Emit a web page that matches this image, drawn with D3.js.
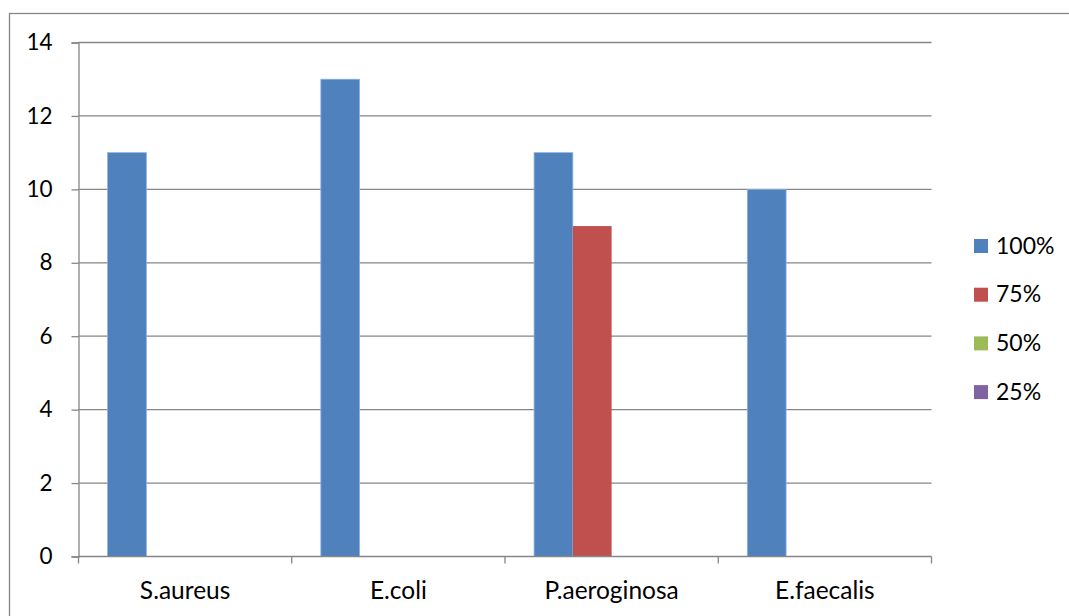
<!DOCTYPE html>
<html>
<head>
<meta charset="utf-8">
<script src="https://cdn.jsdelivr.net/npm/d3@7"></script>
<style>
  html, body { margin: 0; padding: 0; background: #fff; }
  svg { display: block; }
  text { font-family: Lato, Calibri, "Liberation Sans", sans-serif; fill: #000; }
</style>
</head>
<body>
<svg id="chart" width="1069" height="616"></svg>
<script>
// Bacteria tested
const categories = ["S.aureus", "E.coli", "P.aeroginosa", "E.faecalis"];
// Concentration series
const seriesNames = ["100%", "75%", "50%", "25%"];
const seriesColors = ["#4F81BD", "#C0504D", "#9BBB59", "#8064A2"];
// Values per series, in category order
const values100 = [11, 13, 11, 10];
const values75 = [0, 0, 9, 0];
const values50 = [0, 0, 0, 0];
const values25 = [0, 0, 0, 0];
const yTicks = [0, 2, 4, 6, 8, 10, 12, 14];

const seriesValues = [values100, values75, values50, values25];

const svg = d3.select("#chart");
const plot = { left: 78.5, right: 931.5, top: 42.5, bottom: 556.5 };
const gridColor = "#868686";

// Outer chart frame
svg.append("rect")
  .attr("x", 9.5).attr("y", 13.5)
  .attr("width", 1100).attr("height", 700)
  .attr("fill", "none").attr("stroke", gridColor).attr("stroke-width", 1.3);

const x0 = d3.scaleBand().domain(categories).range([plot.left, plot.right]).paddingInner(0).paddingOuter(0);
// Gap between clusters equals 1.5 bar widths
const gapRatio = 1.5;
const barW = x0.bandwidth() / (seriesNames.length + gapRatio);
const x1 = d3.scaleBand().domain(seriesNames)
  .range([barW * gapRatio / 2, barW * gapRatio / 2 + barW * seriesNames.length]);

const y = d3.scaleLinear().domain([0, 14]).range([plot.bottom, plot.top]);

// Horizontal gridlines
svg.append("g")
  .selectAll("line")
  .data(yTicks.filter(d => d > 0))
  .join("line")
  .attr("x1", plot.left).attr("x2", plot.right)
  .attr("y1", d => y(d)).attr("y2", d => y(d))
  .attr("stroke", gridColor).attr("stroke-width", 1.3);

// Bars
const rows = [];
categories.forEach((c, i) => {
  seriesNames.forEach((s, j) => {
    rows.push({ cat: c, series: s, value: seriesValues[j][i], color: seriesColors[j] });
  });
});
svg.append("g")
  .selectAll("rect")
  .data(rows.filter(d => d.value > 0))
  .join("rect")
  .attr("x", d => x0(d.cat) + x1(d.series))
  .attr("y", d => y(d.value))
  .attr("width", x1.bandwidth())
  .attr("height", d => y(0) - y(d.value))
  .attr("fill", d => d.color)
  .attr("stroke", d => d.series === "100%" ? "#8DB3E2" : "none")
  .attr("stroke-width", 0.8);

// Y axis
const yAxis = d3.axisLeft(y).tickValues(yTicks).tickSize(7).tickPadding(19);
const gy = svg.append("g").attr("transform", `translate(${plot.left},0)`).call(yAxis);
gy.select(".domain").attr("stroke", gridColor).attr("stroke-width", 1.3);
gy.selectAll(".tick line").attr("stroke", gridColor).attr("stroke-width", 1.3);
gy.selectAll(".tick text").style("font-size", "22.5px").style("font-family", "Lato, sans-serif").attr("fill", "#000");

// X axis with ticks at cluster boundaries
const gx = svg.append("g").attr("transform", `translate(0,${plot.bottom})`);
gx.append("line").attr("x1", plot.left).attr("x2", plot.right)
  .attr("stroke", gridColor).attr("stroke-width", 1.3);
const boundaries = categories.map(c => x0(c)).concat([plot.right]);
gx.selectAll("line.tk").data(boundaries).join("line").attr("class", "tk")
  .attr("x1", d => d).attr("x2", d => d).attr("y1", 0).attr("y2", 7)
  .attr("stroke", gridColor).attr("stroke-width", 1.3);
gx.selectAll("text").data(categories).join("text")
  .attr("x", d => x0(d) + x0.bandwidth() / 2)
  .attr("y", 42)
  .attr("text-anchor", "middle")
  .style("font-size", "24.5px")
  .text(d => d);

// Legend
const legend = svg.append("g").attr("transform", "translate(974,239)");
const items = legend.selectAll("g").data(seriesNames).join("g")
  .attr("transform", (d, i) => `translate(0,${i * 48.7})`);
items.append("rect").attr("width", 14).attr("height", 14)
  .attr("fill", (d, i) => seriesColors[i]);
items.append("text").attr("x", 22).attr("y", 14.5)
  .style("font-size", "23px").text(d => d);
</script>
</body>
</html>
